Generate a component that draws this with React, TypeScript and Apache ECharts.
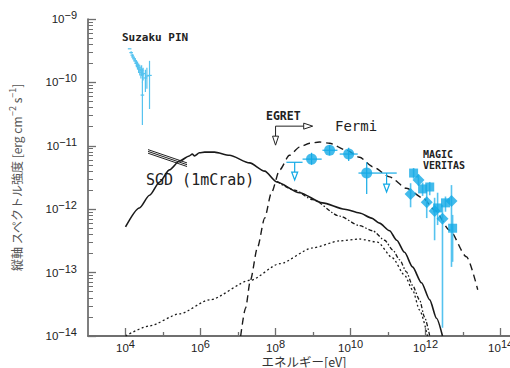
import React, { useEffect, useRef } from 'react';
import * as echarts from 'echarts';

// All values are log10: x = log10(E / eV), y = log10(flux / erg cm^-2 s^-1)
const X_MIN = 3;
const X_MAX = 14.25;
const Y_MIN = -14;
const Y_MAX = -9;
const xMajorTicks = [4, 6, 8, 10, 12, 14];
const xMinorTicks = [5, 7, 9, 11, 13];
const yDecades = [-14, -13, -12, -11, -10];
const yMinorTicks: number[] = [];
yDecades.forEach((d) => {
  [2, 3, 4, 5, 6, 7, 8, 9].forEach((k) => yMinorTicks.push(d + Math.log10(k)));
});

// Suzaku PIN: [logE, logF, logF low, logF high, logE low, logE high]
const suzakuPin = [
  [4.11, -9.47, -9.47, -9.47, 4.11, 4.11],
  [4.15, -9.53, -9.51, -9.55, 4.15, 4.15],
  [4.18, -9.57, -9.55, -9.6, 4.18, 4.18],
  [4.2, -9.6, -9.57, -9.63, 4.2, 4.2],
  [4.23, -9.63, -9.6, -9.67, 4.23, 4.23],
  [4.26, -9.66, -9.62, -9.71, 4.26, 4.26],
  [4.29, -9.7, -9.65, -9.76, 4.29, 4.29],
  [4.32, -9.73, -9.67, -9.8, 4.32, 4.32],
  [4.35, -9.77, -9.7, -9.85, 4.35, 4.35],
  [4.38, -9.8, -9.72, -9.89, 4.38, 4.38],
  [4.41, -9.84, -9.75, -9.94, 4.41, 4.41],
  [4.43, -9.81, -9.73, -9.9, 4.43, 4.43],
  [4.45, -9.88, -9.78, -10.0, 4.45, 4.45],
  [4.47, -9.86, -9.77, -9.97, 4.47, 4.47],
  [4.45, -10.2, -9.99, -10.67, 4.45, 4.45],
  [4.53, -9.93, -9.8, -10.15, 4.53, 4.53],
  [4.57, -9.9, -9.77, -10.1, 4.57, 4.57],
  [4.64, -9.89, -9.66, -10.42, 4.58, 4.7],
];

// SGD (1mCrab) sensitivity segment
const sgdSensitivity = [
  [4.6, -11.06],
  [5.64, -11.27],
];

// Total model (solid)
const totalModel = [
  [4.0, -12.28], [4.37, -11.98], [4.64, -11.78], [4.91, -11.57], [5.17, -11.38],
  [5.44, -11.24], [5.7, -11.16], [5.78, -11.13], [5.84, -11.16], [5.97, -11.11],
  [6.11, -11.1], [6.37, -11.1], [6.77, -11.15], [7.31, -11.27], [7.71, -11.4],
  [8.03, -11.57], [8.64, -11.74], [9.25, -11.9], [9.84, -12.0], [10.24, -12.06],
  [10.56, -12.14], [10.77, -12.22], [11.04, -12.34], [11.23, -12.49], [11.44, -12.68],
  [11.65, -12.91], [11.89, -13.16], [12.11, -13.43], [12.29, -13.72], [12.45, -14.0],
];

// Upper dotted component (dash-dot)
const componentA = [
  [8.03, -11.56], [8.51, -11.7], [8.99, -11.85], [9.71, -12.11], [10.24, -12.26],
  [10.59, -12.34], [10.91, -12.49], [11.12, -12.64], [11.31, -12.8], [11.49, -12.99],
  [11.65, -13.2], [11.84, -13.43], [11.97, -13.7], [12.11, -14.0],
];

// Lower dotted component
const componentB = [
  [4.0, -14.0], [4.64, -13.84], [5.44, -13.65], [6.24, -13.43], [7.33, -13.12],
  [8.11, -12.86], [8.99, -12.61], [9.71, -12.5], [10.24, -12.47], [10.72, -12.52],
  [11.12, -12.77], [11.44, -13.04], [11.65, -13.27], [11.84, -13.59], [12.05, -14.0],
];

// Long-dashed model
const dashedModel = [
  [7.07, -14.0], [7.2, -13.56], [7.33, -13.12], [7.52, -12.6], [7.71, -12.14],
  [7.89, -11.74], [8.11, -11.38], [8.37, -11.15], [8.64, -11.02], [8.91, -10.96],
  [9.17, -10.94], [9.44, -10.96], [9.89, -11.07], [10.24, -11.18], [10.59, -11.33],
  [11.04, -11.49], [11.49, -11.67], [11.92, -11.82], [12.24, -12.01], [12.64, -12.33],
  [13.09, -12.75], [13.39, -13.27],
];

// Fermi points: [logE, logF, logF high, logF low, logE low, logE high]
const fermiPoints = [
  [8.96, -11.21, -11.11, -11.3, 8.72, 9.23],
  [9.44, -11.07, -10.99, -11.15, 9.25, 9.65],
  [9.95, -11.13, -11.03, -11.24, 9.71, 10.19],
  [10.43, -11.43, -11.26, -11.76, 10.21, 10.83],
];
// Fermi upper limits: [logE, logF, arrow tip logF, logE low, logE high]
const fermiUpperLimits = [
  [8.51, -11.26, -11.54, 8.29, 8.72],
  [10.96, -11.43, -11.73, 10.83, 11.23],
];

// MAGIC (squares): [logE, logF, logF high, logF low]
const magic = [
  [11.68, -11.43, -11.35, -11.52],
  [11.92, -11.68, -11.58, -11.79],
  [12.11, -11.65, -11.57, -11.78],
  [12.32, -11.98, -11.74, -12.25],
  [12.53, -11.9, -11.8, -12.04],
  [12.72, -12.3, -12.09, -12.83],
];
// VERITAS (diamonds): [logE, logF, logF high, logF low]
const veritas = [
  [11.6, -11.76, -11.59, -11.97],
  [11.81, -11.54, -11.45, -11.63],
  [12.03, -11.89, -11.7, -12.14],
  [12.24, -12.03, -11.82, -12.49],
  [12.45, -12.15, -11.93, -13.87],
  [12.69, -11.87, -11.62, -12.91],
];

// EGRET bracket: [corner logE, corner logF, right end logE, down end logF]
const egretBracket = [[8.0, -10.69, 8.99, -10.99]];

const CYAN = '#14aae6';
const CYAN_LIGHT = '#55c3ef';
const MONO = '"DejaVu Sans Mono", monospace';
const SANS = '"Liberation Sans", Arial, sans-serif';

const supRich = {
  b: { fontSize: 11.5, color: '#222', fontFamily: SANS },
  s: { fontSize: 11, color: '#222', fontFamily: SANS, padding: [0, 0, 8, 0] },
};

function errorRender(color: string, width: number, cap: number) {
  return (params: any, api: any) => {
    const x = api.value(0);
    const y = api.value(1);
    const p = api.coord([x, y]);
    const a = api.coord([x, api.value(2)]);
    const b = api.coord([x, api.value(3)]);
    const children: any[] = [
      { type: 'line', shape: { x1: p[0], y1: a[1], x2: p[0], y2: b[1] }, style: { stroke: color, lineWidth: width } },
    ];
    const xl = api.value(4);
    const xh = api.value(5);
    if (!isNaN(xl) && !isNaN(xh)) {
      const l = api.coord([xl, y]);
      const h = api.coord([xh, y]);
      children.push({ type: 'line', shape: { x1: Math.min(l[0], p[0] - cap), y1: p[1], x2: Math.max(h[0], p[0] + cap), y2: p[1] }, style: { stroke: color, lineWidth: width } });
    }
    return { type: 'group', children };
  };
}

function upperLimitRender(params: any, api: any) {
  const x = api.value(0);
  const p = api.coord([x, api.value(1)]);
  const tip = api.coord([x, api.value(2)]);
  const l = api.coord([api.value(3), api.value(1)]);
  const h = api.coord([api.value(4), api.value(1)]);
  const st = { stroke: CYAN, lineWidth: 1.2 };
  return {
    type: 'group',
    children: [
      { type: 'line', shape: { x1: l[0], y1: p[1], x2: h[0], y2: p[1] }, style: st },
      { type: 'line', shape: { x1: p[0], y1: p[1], x2: p[0], y2: tip[1] - 8 }, style: st },
      { type: 'polygon', shape: { points: [[p[0] - 3, tip[1] - 8], [p[0] + 3, tip[1] - 8], [p[0], tip[1]]] }, style: { stroke: CYAN, fill: '#fff', lineWidth: 1.2 } },
    ],
  };
}

function egretRender(params: any, api: any) {
  const c = api.coord([api.value(0), api.value(1)]);
  const r = api.coord([api.value(2), api.value(1)]);
  const d = api.coord([api.value(0), api.value(3)]);
  const st = { stroke: '#222', lineWidth: 1 };
  return {
    type: 'group',
    children: [
      { type: 'line', shape: { x1: c[0], y1: c[1], x2: r[0] - 9, y2: c[1] }, style: st },
      { type: 'polygon', shape: { points: [[r[0] - 9, c[1] - 3], [r[0] - 9, c[1] + 3], [r[0], c[1]]] }, style: { stroke: '#222', fill: '#fff', lineWidth: 1 } },
      { type: 'line', shape: { x1: c[0], y1: c[1], x2: c[0], y2: d[1] - 9 }, style: st },
      { type: 'polygon', shape: { points: [[c[0] - 3, d[1] - 9], [c[0] + 3, d[1] - 9], [c[0], d[1]]] }, style: { stroke: '#222', fill: '#fff', lineWidth: 1 } },
    ],
  };
}

function sgdRender(params: any, api: any) {
  if (params.dataIndex !== 0) return null;
  const a = api.coord([sgdSensitivity[0][0], sgdSensitivity[0][1]]);
  const b = api.coord([sgdSensitivity[1][0], sgdSensitivity[1][1]]);
  const children = [0, 1.8, 3.6].map((o) => ({
    type: 'line',
    shape: { x1: a[0], y1: a[1] + o, x2: b[0], y2: b[1] + o },
    style: { stroke: '#222', lineWidth: 1 },
  }));
  return { type: 'group', children };
}

function lineSeries(data: number[][], type: any, width: number) {
  return {
    type: 'line',
    data,
    showSymbol: false,
    symbol: 'none',
    smooth: 0.25,
    smoothMonotone: 'x',
    clip: true,
    lineStyle: { color: '#1a1a1a', width, type },
    z: 2,
  };
}

export default function App() {
  const ref = useRef<HTMLDivElement>(null);
  useEffect(() => {
    if (!ref.current) return;
    const chart = echarts.init(ref.current, undefined, { renderer: 'svg' });
    const axisColor = '#6f6f6f';
    const option: any = {
      animation: false,
      grid: { left: 88, right: 0, top: 19, bottom: 32, containLabel: false, outerBoundsMode: 'none' },
      xAxis: [
        {
          type: 'value', min: X_MIN, max: X_MAX, position: 'bottom',
          axisLine: { show: true, onZero: false, lineStyle: { color: axisColor, width: 2 } },
          axisTick: { show: true, inside: true, length: 8, customValues: xMajorTicks, lineStyle: { color: axisColor, width: 1.3 } },
          axisLabel: {
            show: true, customValues: xMajorTicks, margin: 2,
            formatter: (v: number) => `{b|10}{s|${v}}`,
            rich: supRich,
          },
          splitLine: { show: false },
          name: 'エネルギー[eV]', nameLocation: 'middle', nameGap: 19, nameMoveOverlap: false,
          nameTextStyle: { fontSize: 12.5, lineHeight: 13, color: '#333', fontFamily: '"Noto Sans CJK JP", sans-serif', padding: [0, 0, 0, 10] },
        },
        {
          type: 'value', min: X_MIN, max: X_MAX, position: 'bottom',
          axisLine: { show: false, onZero: false },
          axisTick: { show: true, inside: true, length: 4, customValues: xMinorTicks, lineStyle: { color: axisColor, width: 1.3 } },
          axisLabel: { show: false },
          splitLine: { show: false },
        },
      ],
      yAxis: [
        {
          type: 'value', min: Y_MIN, max: Y_MAX, interval: 1, position: 'left',
          axisLine: { show: true, onZero: false, lineStyle: { color: '#555', width: 1.5 } },
          axisTick: { show: true, inside: true, length: 8, lineStyle: { color: axisColor, width: 1.3 } },
          axisLabel: {
            show: true, margin: 11,
            formatter: (v: number) => `{b|10}{s|−${Math.abs(v)}}`,
            rich: supRich,
          },
          splitLine: { show: false },
          name: '縦軸 スペクトル強度 [erg cm{s|−2} s{s|−1}]',
          nameLocation: 'middle', nameGap: 64, nameMoveOverlap: false,
          nameTextStyle: {
            fontSize: 12, color: '#555', fontFamily: '"Noto Sans CJK JP", sans-serif',
            rich: { s: { fontSize: 9, color: '#555', padding: [0, 0, 7, 0] } },
          },
        },
        {
          type: 'value', min: Y_MIN, max: Y_MAX, position: 'left',
          axisLine: { show: false, onZero: false },
          axisTick: { show: true, inside: true, length: 5, customValues: yMinorTicks, lineStyle: { color: axisColor, width: 1 } },
          axisLabel: { show: false },
          splitLine: { show: false },
        },
      ],
      series: [
        lineSeries(totalModel, 'solid', 1.6),
        lineSeries(componentA, [4, 2, 1.5, 2], 1.3),
        lineSeries(componentB, [2, 2.5], 1.3),
        lineSeries(dashedModel, [7, 4.5], 1.4),
        {
          type: 'custom', renderItem: sgdRender, data: sgdSensitivity, encode: { x: 0, y: 1 }, z: 3,
        },
        {
          type: 'custom', renderItem: errorRender(CYAN_LIGHT, 1.2, 1.8), data: suzakuPin,
          encode: { x: 0, y: 1 }, z: 4,
        },
        {
          type: 'custom', renderItem: errorRender(CYAN, 1.2, 0), data: fermiPoints,
          encode: { x: 0, y: 1 }, z: 4,
        },
        {
          type: 'custom', renderItem: upperLimitRender, data: fermiUpperLimits,
          encode: { x: 0, y: 1 }, z: 4,
        },
        {
          type: 'custom', renderItem: errorRender(CYAN_LIGHT, 1.6, 0),
          data: magic.map((d) => [d[0], d[1], d[2], d[3], NaN, NaN]), encode: { x: 0, y: 1 }, z: 4,
        },
        {
          type: 'custom', renderItem: errorRender(CYAN_LIGHT, 1.6, 0),
          data: veritas.map((d) => [d[0], d[1], d[2], d[3], NaN, NaN]), encode: { x: 0, y: 1 }, z: 4,
        },
        {
          type: 'scatter', data: fermiPoints.map((d) => [d[0], d[1]]), symbol: 'circle', symbolSize: 11,
          itemStyle: { color: CYAN }, z: 5,
        },
        {
          type: 'scatter', data: magic.map((d) => [d[0], d[1]]), symbol: 'rect', symbolSize: 9,
          itemStyle: { color: CYAN }, z: 5,
        },
        {
          type: 'scatter', data: veritas.map((d) => [d[0], d[1]]), symbol: 'diamond', symbolSize: 12,
          itemStyle: { color: CYAN }, z: 5,
        },
        {
          type: 'custom', renderItem: egretRender, data: egretBracket, encode: { x: 0, y: 1 }, z: 4,
        },
      ],
      graphic: [
        { type: 'text', left: 122, top: 32, style: { text: 'Suzaku PIN', fontSize: 11, fontWeight: 'bold', fontFamily: MONO, fill: '#222' } },
        { type: 'text', left: 146, top: 172, style: { text: 'SGD (1mCrab)', fontSize: 15, fontFamily: MONO, fill: '#222' } },
        { type: 'text', left: 266, top: 110, style: { text: 'EGRET', fontSize: 11.5, fontWeight: 'bold', fontFamily: MONO, fill: '#222' } },
        { type: 'text', left: 335, top: 119, style: { text: 'Fermi', fontSize: 14, fontFamily: MONO, fill: '#222' } },
        { type: 'text', left: 423, top: 149, style: { text: 'MAGIC\nVERITAS', fontSize: 10, lineHeight: 11, fontWeight: 'bold', fontFamily: MONO, fill: '#222' } },
      ],
    };
    chart.setOption(option);
    return () => chart.dispose();
  }, []);
  return <div ref={ref} style={{ width: 510, height: 368, position: 'absolute', left: 0, top: 0 }} />;
}
